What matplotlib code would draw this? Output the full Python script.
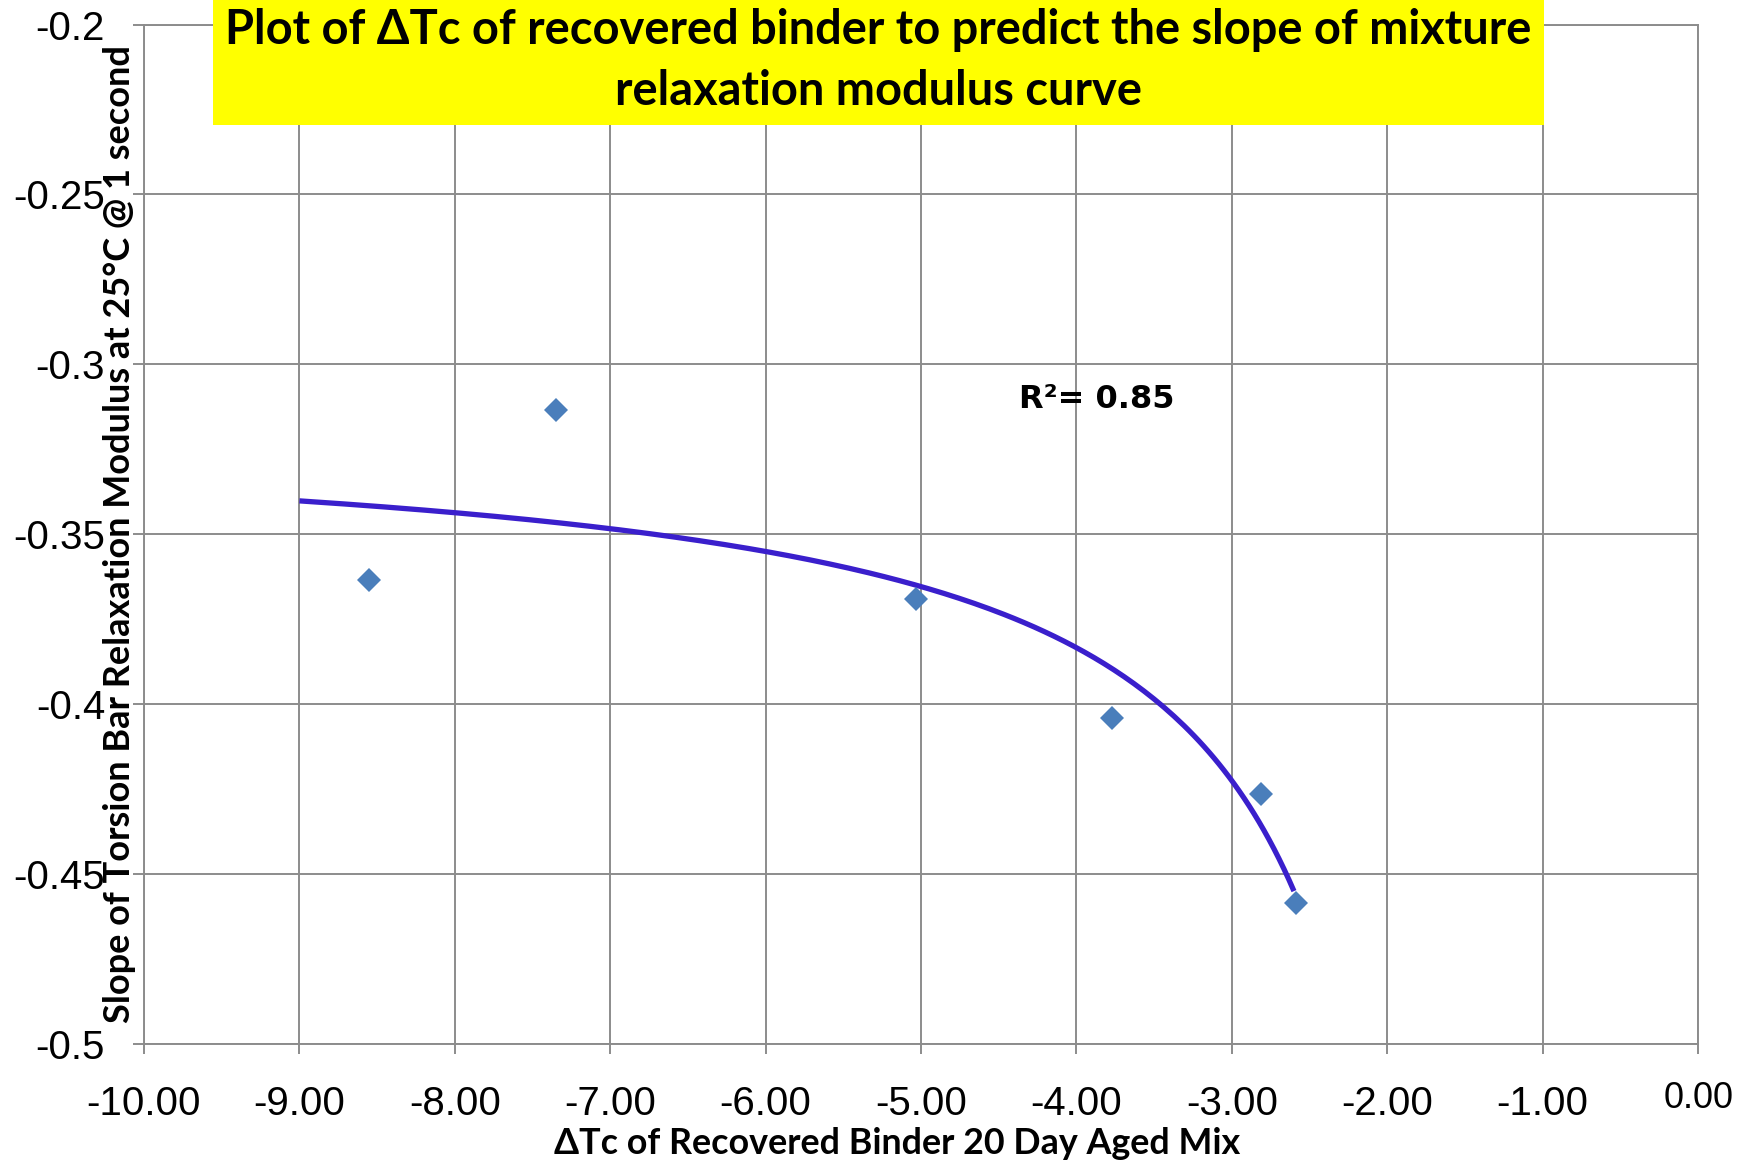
import numpy as np
import matplotlib
matplotlib.use("Agg")
import matplotlib.pyplot as plt
from matplotlib.patches import Rectangle
from matplotlib.transforms import ScaledTranslation

# data
dtc = [-8.55, -7.35, -5.03, -3.77, -2.81, -2.59]
slope = [-0.3635, -0.3135, -0.369, -0.404, -0.4265, -0.4585]

x_ticks = [-10, -9, -8, -7, -6, -5, -4, -3, -2, -1, 0]
y_ticks = [-0.5, -0.45, -0.4, -0.35, -0.3, -0.25, -0.2]
y_tick_labels = ["-0.5", "-0.45", "-0.4", "-0.35", "-0.3", "-0.25", "-0.2"]
trend_range = [-9.0, -2.6]
trend_shift = 1.3  # hyperbolic trend y = a + b / (x + shift)

title_lines = ["Plot of \u0394Tc of recovered binder to predict the slope of mixture",
               "relaxation modulus curve"]
x_label = "\u0394Tc of Recovered Binder 20 Day Aged Mix"
y_label = "Slope of Torsion Bar Relaxation Modulus at 25\u00b0C @ 1 second"
r2_text = "R\u00b2= 0.85"

W, H = 1752, 1165
fig = plt.figure(figsize=(W / 100, H / 100), dpi=100)
ax = fig.add_axes([144 / W, 1 - 1043.6 / H, (1698 - 144) / W, (1043.6 - 24.6) / H])

grid_col = "#8c8c8c"
tick_font = ["Liberation Sans", "DejaVu Sans"]
bold_font = ["Lato", "DejaVu Sans"]

# trendline fitted to the points
xd = np.array(dtc)
b, a = np.polyfit(1.0 / (xd + trend_shift), slope, 1)
xt = np.linspace(trend_range[0], trend_range[1], 200)
ax.plot(xt, a + b / (xt + trend_shift), color="#3a1fcc", lw=3.8, zorder=3,
        solid_capstyle="butt")

ax.plot(dtc, slope, linestyle="none", marker="D", ms=12, color="#4a7ebb",
        markeredgewidth=0, zorder=4)

ax.set_xlim(-10, 0)
ax.set_ylim(-0.5, -0.2)
ax.set_xticks(x_ticks)
ax.set_yticks(y_ticks)
ax.set_xticklabels(["%.2f" % v for v in x_ticks], family=tick_font, fontsize=29)
ax.set_yticklabels(y_tick_labels, family=tick_font, fontsize=29)
ax.grid(True, color=grid_col, lw=1.4, zorder=0)
ax.set_axisbelow(True)
for s in ax.spines.values():
    s.set_color(grid_col)
    s.set_linewidth(1.4)
ax.tick_params(axis="x", direction="out", length=7, width=1.4, color=grid_col, pad=23)
ax.tick_params(axis="y", direction="out", length=8, width=1.4, color=grid_col, pad=20)

# last x label sits smaller and higher
ax.get_xticklabels()[-1].set_visible(False)
ax.text(0, -0.5, "0.00", family=tick_font, fontsize=26, ha="right", va="top",
        transform=ax.transData + ScaledTranslation(0.36, -0.37, fig.dpi_scale_trans))

ax.text(-4.37, -0.3105, r2_text, fontsize=23, fontweight="bold",
        family="DejaVu Sans", ha="left", va="center")

fig.text(897 / W, 1 - 1144 / H, x_label, ha="center", va="center",
         fontsize=25.8, fontweight="bold", family=bold_font)
fig.text(119.5 / W, 1 - 533.5 / H, y_label, ha="center", va="center",
         rotation=90, fontsize=26, fontweight="bold", family=bold_font)

# yellow title box over the plot
fig.add_artist(Rectangle((213 / W, 1 - 125 / H), (1544 - 213) / W, 125 / H,
                         transform=fig.transFigure, facecolor="#ffff00",
                         edgecolor="none", zorder=5))
fig.text(878.5 / W, 1 - 30 / H, title_lines[0], ha="center", va="center",
         fontsize=33.8, fontweight="bold", family=bold_font, zorder=6)
fig.text(878.5 / W, 1 - 91 / H, title_lines[1], ha="center", va="center",
         fontsize=33.8, fontweight="bold", family=bold_font, zorder=6)

fig.savefig("out.png", dpi=100)
